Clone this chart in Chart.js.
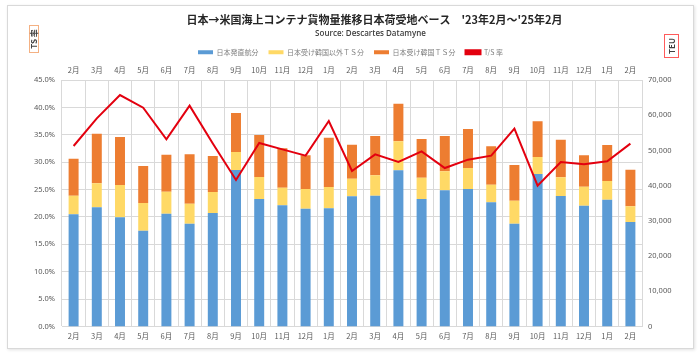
<!DOCTYPE html>
<html>
<head>
<meta charset="utf-8">
<script src="https://cdn.jsdelivr.net/npm/chart.js@4"></script>
<style>
  html,body{margin:0;padding:0;background:#fff;}
  #wrap{position:relative;width:700px;height:357px;overflow:hidden;}
  #c{position:absolute;left:0;top:0;}
  #frame{position:absolute;left:7px;top:5px;width:685px;height:342px;border:1px solid #d9d9d9;box-shadow:1px 1px 3px rgba(0,0,0,0.12);pointer-events:none;}
  .axbox{position:absolute;box-sizing:border-box;background:#fff;display:flex;align-items:center;justify-content:center;}
  .axbox span{display:block;transform:rotate(-90deg);white-space:nowrap;font-family:"Noto Sans CJK JP","Noto Sans",sans-serif;font-weight:bold;color:#404040;font-size:8px;line-height:8px;}
  #tsbox{left:29px;top:25px;width:10px;height:28px;border:1px solid #f4b183;}
  #teubox{left:664px;top:34px;width:15px;height:24px;border:1px solid #ff5b5b;}
</style>
</head>
<body>
<div id="wrap">
  <canvas id="c" width="700" height="357"></canvas>
  <div id="frame"></div>
  <div class="axbox" id="tsbox"><span>TS 率</span></div>
  <div class="axbox" id="teubox"><span>TEU</span></div>
</div>
<script>
const months = ['2月','3月','4月','5月','6月','7月','8月','9月','10月','11月','12月','1月','2月','3月','4月','5月','6月','7月','8月','9月','10月','11月','12月','1月','2月'];
const directJapan = [31850,33840,31000,27220,32040,29200,32230,44440,36210,34410,33460,33560,36970,37160,44350,36210,38670,39050,35260,29200,43310,37060,34310,36020,29680];
const tsNonKorea = [5310,6820,9180,7850,6250,5680,5970,5110,6250,5020,5590,6060,5010,5770,8230,6060,5400,5960,5020,6540,4830,5300,5400,5300,4450];
const tsKorea = [10500,14100,13640,10510,10510,14010,10220,11080,11920,11170,9560,14010,9660,11170,10700,10980,10030,11080,10890,10120,10130,10700,8900,10220,10410];
const tsRate = [32.95,38.0,42.26,39.95,34.17,40.31,33.4,26.75,33.5,32.34,31.19,37.52,28.39,31.43,30.03,31.98,28.93,30.46,31.19,36.12,25.71,30.03,29.6,30.15,33.38];
const leftTicks = [0,5,10,15,20,25,30,35,40,45];
const rightTicks = [0,10000,20000,30000,40000,50000,60000,70000];

const titleText = "日本→米国海上コンテナ貨物量推移日本荷受地ベース　'23年2月～'25年2月";
const subtitleText = 'Source: Descartes Datamyne';

const CJK = '"Noto Sans CJK JP","Noto Sans",sans-serif';
const tickColor = '#595959';
const gridColor = '#d9d9d9';

const shiftTitles = {
  id: 'shiftTitles',
  afterLayout(chart) {
    chart.boxes.forEach(b => {
      if (!b.axis && b !== chart.legend && b.position === 'top') {
        const d = (b === chart.titleBlock) ? 24 : 20;
        b.left += d; b.right += d;
      }
    });
  }
};

new Chart(document.getElementById('c'), {
  type: 'bar',
  data: {
    labels: months,
    datasets: [
      {label: '日本発直航分', data: directJapan, backgroundColor: '#5b9bd5', yAxisID: 'yR', stack: 's', order: 1},
      {label: '日本受け韓国以外ＴＳ分', data: tsNonKorea, backgroundColor: '#ffd966', yAxisID: 'yR', stack: 's', order: 1},
      {label: '日本受け韓国ＴＳ分', data: tsKorea, backgroundColor: '#ed7d31', yAxisID: 'yR', stack: 's', order: 1},
      {label: 'T/S 率', type: 'line', data: tsRate, borderColor: '#e3000f', backgroundColor: '#e3000f', borderWidth: 2, pointRadius: 0, tension: 0, yAxisID: 'yL', order: 0}
    ]
  },
  plugins: [shiftTitles],
  options: {
    responsive: false,
    animation: false,
    devicePixelRatio: 1,
    layout: {padding: {left: 8, right: 7, top: 5, bottom: 10}},
    datasets: {bar: {categoryPercentage: 1, barPercentage: 0.43}},
    plugins: {
      tooltip: {enabled: false},
      title: {display: true, text: titleText, color: '#262626', font: {family: CJK, size: 11, weight: 'bold'}, padding: {top: 8, bottom: 2}},
      subtitle: {display: true, text: subtitleText, color: '#404040', font: {family: '"Open Sans","Noto Sans",sans-serif', size: 8, weight: '600'}, padding: {top: 1, bottom: 0}},
      legend: {
        display: true,
        position: 'top',
        labels: {
          boxWidth: 15, boxHeight: 4, padding: 10,
          color: '#7f7f7f',
          font: {family: CJK, size: 7},
          sort: (a, b) => a.datasetIndex - b.datasetIndex
        }
      }
    },
    scales: {
      x: {
        type: 'category',
        position: 'bottom',
        stacked: true,
        offset: true,
        grid: {display: true, offset: true, color: gridColor, drawTicks: false},
        border: {display: true, color: gridColor},
        ticks: {color: tickColor, font: {family: CJK, size: 7.5}, padding: 5, maxRotation: 0, autoSkip: false},
        afterFit(s) { s.height = 20.5; }
      },
      xTop: {
        type: 'category',
        position: 'top',
        offset: true,
        grid: {display: false, drawTicks: false},
        border: {display: false},
        ticks: {color: tickColor, font: {family: CJK, size: 7.5}, padding: 5, maxRotation: 0, autoSkip: false},
        afterFit(s) {
          const ch = s.chart;
          let used = 5;
          ch.boxes.forEach(b => { if (!b.axis && b.position === 'top') used += (b.height || 0); });
          s.height = Math.max(8, 80 - used);
        }
      },
      yL: {
        type: 'linear',
        position: 'left',
        min: 0, max: 45,
        afterBuildTicks(s) { s.ticks = leftTicks.map(v => ({value: v})); },
        grid: {color: gridColor, drawTicks: false},
        border: {display: false},
        ticks: {color: tickColor, font: {family: '"Noto Sans",sans-serif', size: 7.5}, padding: 7, callback: v => v.toFixed(1) + '%'},
        afterFit(s) { s.width = 54; }
      },
      yR: {
        type: 'linear',
        position: 'right',
        stacked: true,
        min: 0, max: 70000,
        afterBuildTicks(s) { s.ticks = rightTicks.map(v => ({value: v})); },
        grid: {display: false, drawTicks: false},
        border: {display: false},
        ticks: {color: tickColor, font: {family: '"Noto Sans",sans-serif', size: 7.5}, padding: 6, callback: v => v.toLocaleString('en-US')},
        afterFit(s) { s.width = 51; }
      }
    }
  }
});
</script>
</body>
</html>
